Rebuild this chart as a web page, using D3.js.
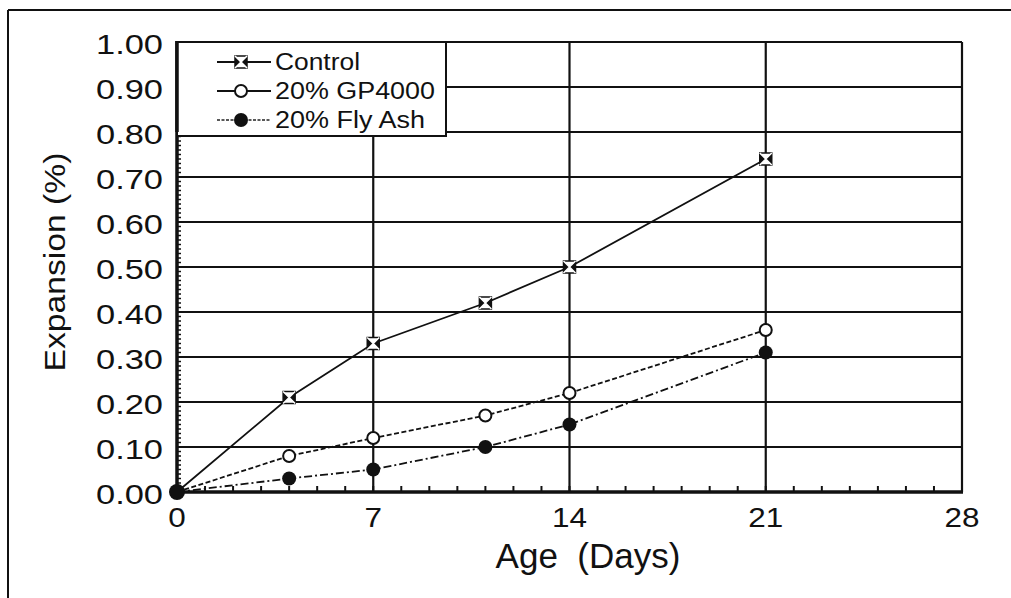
<!DOCTYPE html>
<html>
<head>
<meta charset="utf-8">
<script src="https://cdn.jsdelivr.net/npm/d3@7"></script>
<style>
  html, body { margin: 0; padding: 0; background: #ffffff; }
  svg { display: block; font-family: "Liberation Sans", Arial, sans-serif; }
  .pre { white-space: pre; }
</style>
</head>
<body>
<svg id="chart" width="1011" height="598"></svg>
<script>
// ---- data ----
const days = [0, 4, 7, 11, 14, 21];
const control = [0, 0.21, 0.33, 0.42, 0.50, 0.74];
const gp4000 = [0, 0.08, 0.12, 0.17, 0.22, 0.36];
const flyAsh = [0, 0.03, 0.05, 0.10, 0.15, 0.31];
const seriesNames = ["Control", "20% GP4000", "20% Fly Ash"];
const xTicks = [0, 7, 14, 21, 28];
const yTicks = [0, 0.1, 0.2, 0.3, 0.4, 0.5, 0.6, 0.7, 0.8, 0.9, 1.0];
const yTickLabels = ["0.00", "0.10", "0.20", "0.30", "0.40", "0.50", "0.60", "0.70", "0.80", "0.90", "1.00"];
const xTitle = "Age  (Days)";
const yTitle = "Expansion (%)";

const svg = d3.select("#chart");
const x = d3.scaleLinear().domain([0, 28]).range([177, 962]);
const y = d3.scaleLinear().domain([0, 1]).range([492, 42]);
const ink = "#111";

// outer frame (top + left)
svg.append("line").attr("x1", 8).attr("x2", 1011).attr("y1", 10).attr("y2", 10)
  .attr("stroke", ink).attr("stroke-width", 2);
svg.append("line").attr("x1", 8).attr("x2", 8).attr("y1", 10).attr("y2", 598)
  .attr("stroke", ink).attr("stroke-width", 2);

// grid
const g = svg.append("g");
g.selectAll(".hg").data(yTicks.slice(1)).join("line")
  .attr("x1", x(0)).attr("x2", x(28))
  .attr("y1", d => y(d)).attr("y2", d => y(d))
  .attr("stroke", ink).attr("stroke-width", 2.2);
g.selectAll(".vg").data(xTicks.slice(1)).join("line")
  .attr("x1", d => x(d)).attr("x2", d => x(d))
  .attr("y1", y(1)).attr("y2", y(0))
  .attr("stroke", ink).attr("stroke-width", 2.2);

// minor ticks
const xMinor = d3.range(0, 29);
g.selectAll(".xm").data(xMinor).join("line")
  .attr("x1", d => x(d)).attr("x2", d => x(d))
  .attr("y1", y(0)).attr("y2", y(0) - 6)
  .attr("stroke", ink).attr("stroke-width", 2);
const yMinor = d3.range(0, 101).map(i => i / 100);
g.selectAll(".ym").data(yMinor).join("line")
  .attr("x1", x(0)).attr("x2", x(0) + 4)
  .attr("y1", d => y(d)).attr("y2", d => y(d))
  .attr("stroke", ink).attr("stroke-width", 1.5);

// axes lines
svg.append("line").attr("x1", x(0)).attr("x2", x(0)).attr("y1", y(1) - 1).attr("y2", y(0) + 1.5)
  .attr("stroke", ink).attr("stroke-width", 3.5);
svg.append("line").attr("x1", x(0)).attr("x2", x(28) + 1).attr("y1", y(0)).attr("y2", y(0))
  .attr("stroke", ink).attr("stroke-width", 3.5);

// tick labels
svg.selectAll(".yl").data(yTicks).join("text")
  .attr("x", x(0) - 14).attr("y", d => y(d) + 12)
  .attr("text-anchor", "end")
  .attr("font-size", 27)
  .attr("textLength", 67).attr("lengthAdjust", "spacingAndGlyphs")
  .attr("fill", ink)
  .text((d, i) => yTickLabels[i]);
svg.selectAll(".xl").data(xTicks).join("text")
  .attr("x", d => x(d)).attr("y", 527)
  .attr("text-anchor", "middle")
  .attr("font-size", 28)
  .attr("textLength", d => String(d).length * 17.5).attr("lengthAdjust", "spacingAndGlyphs")
  .attr("fill", ink)
  .text(d => d);

// axis titles
svg.append("text").attr("class", "pre").attr("x", 588).attr("y", 568).attr("text-anchor", "middle")
  .attr("font-size", 35).attr("fill", ink).text(xTitle);
svg.append("text").attr("transform", "translate(65,262) rotate(-90)")
  .attr("text-anchor", "middle").attr("font-size", 30)
  .attr("textLength", 219).attr("lengthAdjust", "spacingAndGlyphs")
  .attr("fill", ink).text(yTitle);

// series
const series = [
  { name: seriesNames[0], vals: control, dash: null, marker: "cross" },
  { name: seriesNames[1], vals: gp4000, dash: "5,2.5", marker: "open" },
  { name: seriesNames[2], vals: flyAsh, dash: "8,3,2,3", marker: "filled" }
];
const line = d3.line().x(d => x(d[0])).y(d => y(d[1]));

function drawMarker(sel, type, cx, cy) {
  if (type === "open") {
    sel.append("circle").attr("cx", cx).attr("cy", cy).attr("r", 6)
      .attr("fill", "#fff").attr("stroke", ink).attr("stroke-width", 2);
  } else if (type === "filled") {
    sel.append("circle").attr("cx", cx).attr("cy", cy).attr("r", 7)
      .attr("fill", ink);
  } else {
    const s = 6;
    sel.append("path")
      .attr("d", `M${cx - s},${cy - s}L${cx + s},${cy - s}L${cx},${cy}Z M${cx - s},${cy + s}L${cx + s},${cy + s}L${cx},${cy}Z`)
      .attr("fill", "#fff");
    sel.append("path")
      .attr("d", `M${cx - s},${cy - s}L${cx},${cy}L${cx - s},${cy + s}Z M${cx + s},${cy - s}L${cx},${cy}L${cx + s},${cy + s}Z`)
      .attr("fill", ink);
    sel.append("rect").attr("x", cx - s).attr("y", cy - s).attr("width", 2 * s).attr("height", 2 * s)
      .attr("fill", "none").attr("stroke", ink).attr("stroke-width", 1.5);
    sel.append("path")
      .attr("d", `M${cx - s},${cy - s}L${cx + s},${cy + s}M${cx + s},${cy - s}L${cx - s},${cy + s}`)
      .attr("stroke", "#fff").attr("stroke-width", 1.5);
  }
}

series.forEach(s => {
  const pts = days.map((d, i) => [d, s.vals[i]]);
  svg.append("path").datum(pts).attr("d", line)
    .attr("fill", "none").attr("stroke", ink).attr("stroke-width", 1.8)
    .attr("stroke-dasharray", s.dash);
});
series.forEach(s => {
  const mg = svg.append("g");
  days.forEach((d, i) => {
    if (i === 0) return;
    drawMarker(mg, s.marker, x(d), y(s.vals[i]));
  });
});
// origin point shared by all series
svg.append("circle").attr("cx", x(days[0])).attr("cy", y(flyAsh[0])).attr("r", 8).attr("fill", ink);

// legend
const lg = svg.append("g");
lg.append("rect").attr("x", x(0)).attr("y", y(1)).attr("width", 269).attr("height", 94)
  .attr("fill", "#fff").attr("stroke", ink).attr("stroke-width", 2);
const rowY = [62, 91, 120];
series.forEach((s, i) => {
  lg.append("line").attr("x1", 217).attr("x2", 271).attr("y1", rowY[i]).attr("y2", rowY[i])
    .attr("stroke", ink).attr("stroke-width", 2)
    .attr("stroke-dasharray", i === 2 ? "3,1.5" : null)
    .attr("stroke-opacity", i === 2 ? 0.7 : 1);
  drawMarker(lg, s.marker, 241, rowY[i]);
  lg.append("text").attr("x", 275).attr("y", rowY[i] + 8)
    .attr("font-size", 23).attr("fill", ink)
    .attr("textLength", [85, 160, 150][i]).attr("lengthAdjust", "spacingAndGlyphs")
    .text(s.name);
});
// redraw left axis over legend border
svg.append("line").attr("x1", x(0)).attr("x2", x(0)).attr("y1", y(1) - 1).attr("y2", y(0.8))
  .attr("stroke", ink).attr("stroke-width", 3.5);
</script>
</body>
</html>
